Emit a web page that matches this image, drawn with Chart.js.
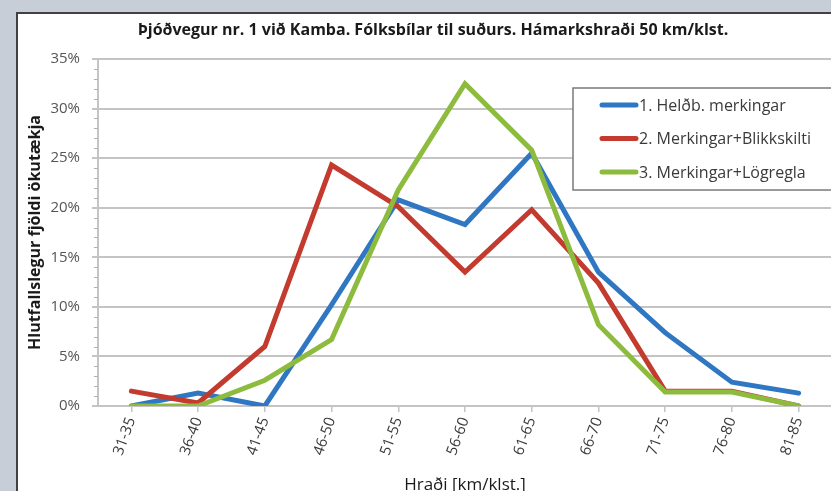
<!DOCTYPE html>
<html>
<head>
<meta charset="utf-8">
<script src="https://cdn.jsdelivr.net/npm/chart.js@4/dist/chart.umd.min.js"></script>
<style>
  html, body { margin: 0; padding: 0; overflow: hidden; background: #c8ced7; }
  #panel {
    position: absolute; left: 16px; top: 12px; width: 900px; height: 600px;
    background: #ffffff; border: 2px solid #3f4144;
  }
  #wrap { position: absolute; left: 0; top: 0; width: 850px; height: 505px; }
</style>
</head>
<body>
<div id="panel"></div>
<div id="wrap"><canvas id="chart"></canvas></div>
<script>
// flokkar (hraðabil)
const categories = ["31-35", "36-40", "41-45", "46-50", "51-55", "56-60", "61-65", "66-70", "71-75", "76-80", "81-85"];

// hlutfall ökutækja í %
const helfdMerkingar = [0, 1.3, 0, 10.2, 20.8, 18.3, 25.5, 13.5, 7.4, 2.4, 1.3];
const merkingarBlikk = [1.5, 0.3, 6.0, 24.3, 20.1, 13.5, 19.8, 12.4, 1.5, 1.5, 0];
const merkingarLogregla = [0, 0, 2.6, 6.7, 21.8, 32.5, 25.8, 8.2, 1.4, 1.4, 0];

const seriesNames = ["1. Helðb. merkingar", "2. Merkingar+Blikkskilti", "3. Merkingar+Lögregla"];
const yTicks = [0, 5, 10, 15, 20, 25, 30, 35];

const fontFam = "'Open Sans', Lato, sans-serif";
const gridGray = "#c4c4c4";

// minni strik á y-ás (1%)
const minorTicks = {
  id: "minorTicks",
  afterDraw(chart) {
    const y = chart.scales.y;
    const ctx = chart.ctx;
    ctx.save();
    ctx.strokeStyle = "#b0b0b0";
    ctx.lineWidth = 1;
    for (let v = 0; v <= 35; v++) {
      if (v % 5 === 0) continue;
      const py = Math.round(y.getPixelForValue(v)) + 0.5;
      ctx.beginPath();
      ctx.moveTo(y.right - 4, py);
      ctx.lineTo(y.right, py);
      ctx.stroke();
    }
    ctx.restore();
  }
};

// skýringar inni í grafinu
const boxLegend = {
  id: "boxLegend",
  afterDraw(chart) {
    const ctx = chart.ctx;
    ctx.save();
    ctx.fillStyle = "#ffffff";
    ctx.fillRect(573, 88, 300, 102);
    ctx.strokeStyle = "#7a7a7a";
    ctx.lineWidth = 1.5;
    ctx.strokeRect(573, 88, 300, 102);
    ctx.font = "16px " + fontFam;
    ctx.textBaseline = "middle";
    ctx.lineCap = "round";
    chart.data.datasets.forEach((ds, i) => {
      const yy = 105 + i * 33.5;
      ctx.strokeStyle = ds.borderColor;
      ctx.lineWidth = 5;
      ctx.beginPath();
      ctx.moveTo(602, yy);
      ctx.lineTo(636, yy);
      ctx.stroke();
      ctx.fillStyle = "#3a3a3a";
      ctx.fillText(ds.label, 639, yy + 1);
    });
    ctx.restore();
  }
};

new Chart(document.getElementById("chart"), {
  type: "line",
  data: {
    labels: categories,
    datasets: [
      { label: seriesNames[0], data: helfdMerkingar, borderColor: "#2f77c2", order: 2 },
      { label: seriesNames[1], data: merkingarBlikk, borderColor: "#c33b2e", order: 1 },
      { label: seriesNames[2], data: merkingarLogregla, borderColor: "#8dbb3d", order: 0 }
    ]
  },
  options: {
    responsive: true,
    maintainAspectRatio: false,
    animation: false,
    layout: { padding: { left: 34, right: 18, top: 0, bottom: 0 } },
    elements: {
      line: { borderWidth: 5, tension: 0, borderCapStyle: "round", fill: false },
      point: { radius: 0, hoverRadius: 0 }
    },
    plugins: {
      legend: { display: false },
      tooltip: { enabled: false },
      title: {
        display: true,
        text: "Þjóðvegur nr. 1 við Kamba. Fólksbílar til suðurs. Hámarkshraði 50 km/klst.",
        color: "#1a1a1a",
        font: { family: fontFam, size: 16, weight: "bold" },
        padding: { top: 20.4, bottom: 19.4 }
      }
    },
    scales: {
      x: {
        offset: true,
        afterFit(scale) { scale.height = 99; },
        grid: { drawOnChartArea: false, drawTicks: true, tickLength: 6, color: gridGray, lineWidth: 1.5 },
        border: { color: gridGray, width: 2 },
        ticks: { color: "#3a3a3a", font: { family: fontFam, size: 15 }, minRotation: 70, maxRotation: 70, padding: 3 },
        title: {
          display: true, text: "Hraði [km/klst.]", color: "#1a1a1a",
          font: { family: fontFam, size: 17 }, padding: { top: 0, bottom: 9.8 }
        }
      },
      y: {
        min: 0, max: 35,
        afterFit(scale) { scale.width = 64; },
        afterBuildTicks(scale) { scale.ticks = yTicks.map(v => ({ value: v })); },
        grid: { color: gridGray, lineWidth: 2, tickLength: 6 },
        border: { color: gridGray, width: 2 },
        ticks: {
          color: "#555555", font: { family: fontFam, size: 15 }, padding: 12,
          callback: v => v + "%"
        },
        title: {
          display: true, text: "Hlutfallslegur fjöldi ökutækja", color: "#1a1a1a",
          font: { family: fontFam, size: 16, weight: "bold" }, padding: { top: -8.6, bottom: 0 }
        }
      }
    }
  },
  plugins: [minorTicks, boxLegend]
});
</script>
</body>
</html>
